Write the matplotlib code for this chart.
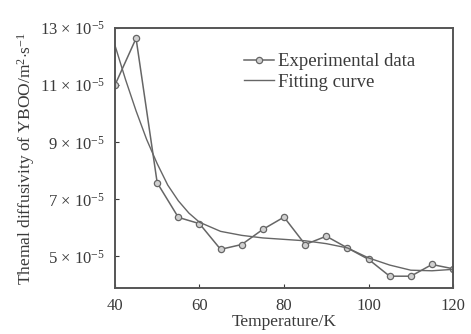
import matplotlib
matplotlib.use('Agg')
import matplotlib.pyplot as plt

plt.rcParams['font.family'] = ['Liberation Serif', 'DejaVu Serif']
plt.rcParams['mathtext.fontset'] = 'custom'
plt.rcParams['mathtext.rm'] = 'Liberation Serif'
plt.rcParams['mathtext.it'] = 'Liberation Serif:italic'

# data (values in units of 1e-5 m^2/s)
temp_exp = [40, 45, 50, 55, 60, 65, 70, 75, 80, 85, 90, 95, 100, 105, 110, 115, 120]
diff_exp = [11.0, 12.64, 7.58, 6.37, 6.15, 5.25, 5.42, 5.95, 6.38, 5.42, 5.71, 5.3,
            4.9, 4.31, 4.31, 4.72, 4.57]

temp_fit = [40, 42.5, 45, 47.5, 50, 52.5, 55, 57.5, 60, 65, 70, 75, 80, 85, 90,
            95, 100, 105, 110, 115, 120]
diff_fit = [12.4, 11.2, 10.1, 9.1, 8.25, 7.5, 6.95, 6.52, 6.2, 5.88, 5.74, 5.65, 5.6,
            5.55, 5.45, 5.3, 4.95, 4.7, 4.52, 4.5, 4.55]

x_ticks = [40, 60, 80, 100, 120]
y_ticks = [5, 7, 9, 11, 13]
y_ticklabels = [r'%d $\times$ 10$^{-5}$' % v for v in y_ticks]

txt = '#3a3a3a'
ln = '#666666'

fig = plt.figure(figsize=(4.71, 3.34), dpi=100)
ax = fig.add_axes([0.244, 0.138, 0.718, 0.778])

ax.plot(temp_exp, diff_exp, color=ln, lw=1.1, marker='o', ms=4.5,
        mfc='#d0d0d0', mec=ln, mew=0.9, label='Experimental data')
ax.plot(temp_fit, diff_fit, color=ln, lw=1.0, label='Fitting curve')

ax.set_xlim(40, 120)
ax.set_ylim(3.9, 13)
ax.set_xticks(x_ticks)
ax.set_yticks(y_ticks)
ax.set_yticklabels(y_ticklabels)
ax.tick_params(direction='in', length=3, width=0.8, colors=txt, labelsize=12,
               pad=7)
for s in ax.spines.values():
    s.set_color('#555555')
    s.set_linewidth(1.4)

ax.set_xlabel('Temperature/K', fontsize=12.5, color=txt, labelpad=0)
ax.set_ylabel(r'Themal diffusivity of YBOO/m$^2$$\cdot$s$^{-1}$', fontsize=12.5,
              color=txt, labelpad=2)

leg = ax.legend(loc='upper left', bbox_to_anchor=(0.355, 0.94), frameon=False,
                fontsize=13.5, handlelength=1.6, handletextpad=0.2,
                labelspacing=0.2, borderpad=0)
for t in leg.get_texts():
    t.set_color(txt)

fig.savefig('out.png', dpi=100)
